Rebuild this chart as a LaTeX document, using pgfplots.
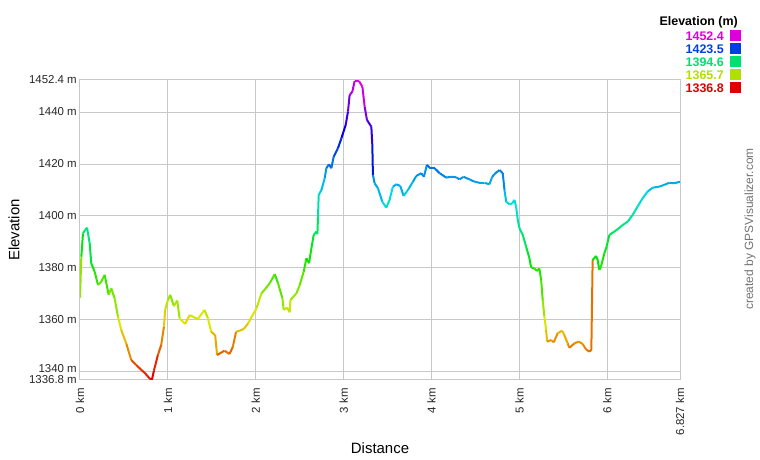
\documentclass[border=0pt]{standalone}
\usepackage{fontspec}
\setmainfont{Liberation Sans}
\usepackage{pgfplots}
\pgfplotsset{compat=1.18}

% elevation profile, km / m
\pgfplotstableread{
km elev
0.000 1368.5
0.015 1384.3
0.034 1393.3
0.057 1394.5
0.080 1395.5
0.110 1389.5
0.128 1381.8
0.167 1378.5
0.205 1373.4
0.242 1374.7
0.281 1377.3
0.326 1369.6
0.356 1372.1
0.394 1368.3
0.432 1361.2
0.469 1356.1
0.526 1350.9
0.583 1344.5
0.640 1342.6
0.697 1340.7
0.735 1339.6
0.792 1337.4
0.818 1336.8
0.841 1340.4
0.886 1346.4
0.924 1350.3
0.955 1357.3
0.969 1363.8
1.000 1367.6
1.026 1369.6
1.068 1365.3
1.106 1367.4
1.133 1360.6
1.197 1358.4
1.247 1361.8
1.341 1360.3
1.417 1363.8
1.455 1360.6
1.492 1355.4
1.538 1354.1
1.560 1346.4
1.644 1348.1
1.701 1346.8
1.739 1349.6
1.776 1355.4
1.818 1355.8
1.864 1356.5
1.913 1358.6
1.951 1361.0
2.008 1364.4
2.065 1370.2
2.114 1372.1
2.159 1374.1
2.216 1377.6
2.253 1374.1
2.303 1368.3
2.318 1363.8
2.356 1364.7
2.386 1362.9
2.394 1367.6
2.463 1370.2
2.500 1373.4
2.545 1378.5
2.576 1383.7
2.606 1381.8
2.633 1387.6
2.659 1392.7
2.690 1394.0
2.701 1393.0
2.708 1399.7
2.716 1408.1
2.747 1410.0
2.784 1414.5
2.803 1418.4
2.833 1419.9
2.860 1418.4
2.886 1422.8
2.935 1426.1
2.974 1429.9
3.023 1435.1
3.049 1440.2
3.068 1446.6
3.099 1447.9
3.125 1452.0
3.174 1452.0
3.213 1449.8
3.239 1442.1
3.265 1437.0
3.315 1434.4
3.326 1427.4
3.333 1415.8
3.352 1412.6
3.390 1410.7
3.440 1405.5
3.485 1403.2
3.523 1406.2
3.560 1411.3
3.599 1412.2
3.644 1411.6
3.682 1407.7
3.731 1410.0
3.788 1413.2
3.826 1415.4
3.883 1416.5
3.913 1415.1
3.947 1419.7
3.985 1418.4
4.034 1418.4
4.091 1416.5
4.167 1414.8
4.224 1415.1
4.281 1414.9
4.318 1414.1
4.364 1415.1
4.432 1414.1
4.489 1413.2
4.545 1412.8
4.602 1412.8
4.659 1412.2
4.690 1415.1
4.727 1416.5
4.773 1417.7
4.810 1416.5
4.830 1410.0
4.849 1405.5
4.886 1404.5
4.917 1404.8
4.943 1406.2
4.962 1403.6
4.981 1398.5
5.000 1395.3
5.038 1392.7
5.076 1388.2
5.114 1383.7
5.133 1380.2
5.170 1379.8
5.199 1378.8
5.227 1379.8
5.247 1375.3
5.265 1367.6
5.284 1361.2
5.303 1356.1
5.315 1351.6
5.360 1352.2
5.390 1351.3
5.435 1354.8
5.485 1355.8
5.511 1354.1
5.549 1350.9
5.568 1349.2
5.625 1350.9
5.674 1351.6
5.719 1350.7
5.758 1348.6
5.795 1347.7
5.818 1348.4
5.833 1383.0
5.872 1384.6
5.890 1383.0
5.909 1379.2
5.928 1380.5
5.966 1385.6
5.992 1388.2
6.023 1392.7
6.080 1394.0
6.117 1394.9
6.174 1396.5
6.231 1397.8
6.288 1400.4
6.344 1403.6
6.401 1406.8
6.458 1409.4
6.515 1410.9
6.591 1411.3
6.648 1412.0
6.705 1412.8
6.761 1412.6
6.827 1413.2
}\profile

\definecolor{gridgray}{RGB}{200,200,200}
\definecolor{legmag}{RGB}{221,0,221}
\definecolor{legblue}{RGB}{0,64,224}
\definecolor{leggreen}{RGB}{0,224,112}
\definecolor{legyel}{RGB}{176,224,0}
\definecolor{legred}{RGB}{224,0,0}

\begin{document}
\begin{tikzpicture}[x=1bp,y=1bp]
\path[use as bounding box] (-80,-80) rectangle (680,380);
\begin{axis}[
    at={(0,0)}, anchor=south west,
    scale only axis, width=600bp, height=300bp,
    xmin=0, xmax=6.827, ymin=1336.8, ymax=1452.4,
    xtick={0,1,2,3,4,5,6,6.827},
    xticklabels={0 km,1 km,2 km,3 km,4 km,5 km,6 km,6.827 km},
    ytick={1336.8,1360,1380,1400,1420,1440,1452.4},
    yticklabels={1336.8 m,1360 m,1380 m,1400 m,1420 m,1440 m,1452.4 m},
    extra y ticks={1340},
    extra y tick labels={1340 m},
    extra y tick style={yticklabel style={yshift=2.5bp}},
    grid=major,
    grid style={draw=gridgray, line width=1bp},
    axis line style={draw=gridgray, line width=1bp},
    major tick length=0pt,
    tick label style={font=\fontsize{11.5}{12}\selectfont, text=black!85},
    xticklabel style={rotate=90, anchor=east, inner sep=0pt, xshift=-8bp},
    yticklabel style={anchor=east, inner sep=0pt, xshift=-3bp, yshift=0.5bp},
    xlabel={Distance}, ylabel={Elevation},
    label style={font=\fontsize{15}{17}\selectfont},
    xlabel style={at={(axis description cs:0.5,-0.227)}, anchor=center},
    ylabel style={at={(axis description cs:-0.11,0.5)}, anchor=center},
    colormap={gps}{rgb255=(230,0,0) rgb255=(230,115,0) rgb255=(230,230,0)
        rgb255=(115,230,0) rgb255=(0,230,0) rgb255=(0,230,115) rgb255=(0,220,230)
        rgb255=(0,125,230) rgb255=(0,0,230) rgb255=(115,0,230) rgb255=(230,0,230)},
    point meta min=1336.8, point meta max=1452.4,
]
\addplot[mesh, shader=flat corner, line width=2bp, point meta=\thisrow{elev}]
    table[x=km, y=elev] {\profile};
\end{axis}
% colour key
\begin{scope}[font=\fontsize{12.5}{14}\selectfont\bfseries]
\node[anchor=east, inner sep=0pt] at (658,358) {Elevation (m)};
\node[anchor=east, inner sep=0pt, text=legmag]   at (644,344) {1452.4};
\node[anchor=east, inner sep=0pt, text=legblue]  at (644,331) {1423.5};
\node[anchor=east, inner sep=0pt, text=leggreen] at (644,318) {1394.6};
\node[anchor=east, inner sep=0pt, text=legyel]   at (644,305) {1365.7};
\node[anchor=east, inner sep=0pt, text=legred]   at (644,292) {1336.8};
\fill[legmag]   (650,338.5) rectangle (661,349.5);
\fill[legblue]  (650,325.5) rectangle (661,336.5);
\fill[leggreen] (650,312.5) rectangle (661,323.5);
\fill[legyel]   (650,299.5) rectangle (661,310.5);
\fill[legred]   (650,286.5) rectangle (661,297.5);
\end{scope}
\node[rotate=90, text=black!55, font=\fontsize{12}{14}\selectfont] at (670,151) {created by GPSVisualizer.com};
\end{tikzpicture}
\end{document}
